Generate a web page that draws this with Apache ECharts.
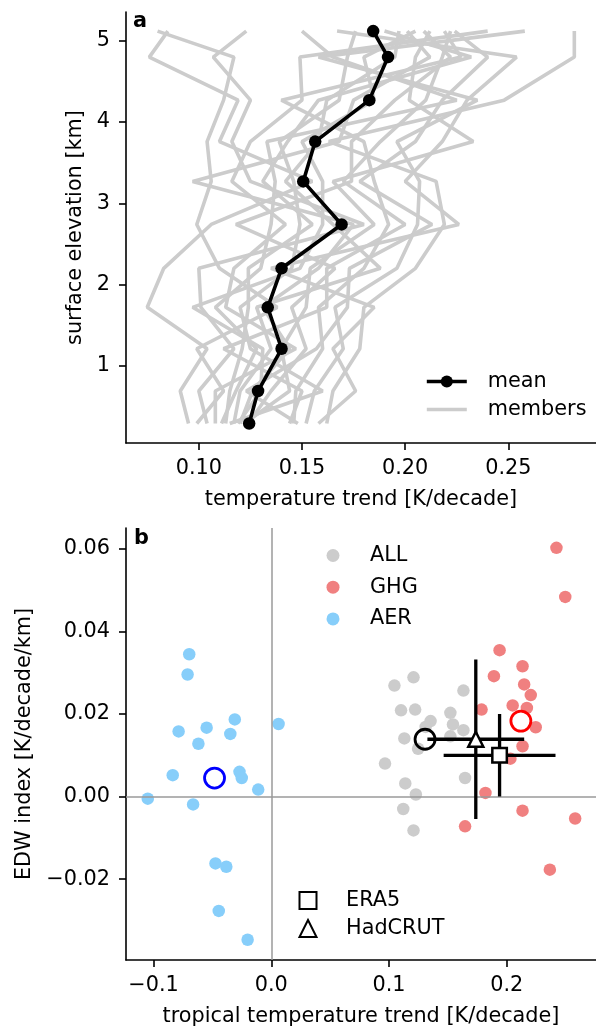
<!DOCTYPE html>
<html>
<head>
<meta charset="utf-8">
<script src="https://cdn.jsdelivr.net/npm/echarts@6/dist/echarts.min.js"></script>
<style>
  html, body { margin: 0; padding: 0; background: #fff; }
  #chart { width: 596px; height: 1029px; }
</style>
</head>
<body>
<div id="chart"></div>
<script>
// ---- panel a: elevation profiles ----
var levels = [0.29, 0.69, 1.21, 1.72, 2.20, 2.74, 3.27, 3.76, 4.27, 4.80, 5.12];
var meanTrend = [0.1244, 0.1287, 0.1401, 0.1334, 0.1401, 0.1692, 0.1506, 0.1564, 0.1826, 0.1917, 0.1845];
// one row per ensemble member, bottom level first
var memberTrends = [
  [0.095, 0.091, 0.104, 0.075, 0.083, 0.106, 0.155, 0.110, 0.119, 0.076, 0.085],
  [0.099, 0.112, 0.099, 0.138, 0.110, 0.099, 0.106, 0.104, 0.112, 0.117, 0.080],
  [0.104, 0.100, 0.117, 0.101, 0.100, 0.180, 0.125, 0.116, 0.125, 0.107, 0.123],
  [0.108, 0.108, 0.147, 0.113, 0.117, 0.142, 0.116, 0.125, 0.150, 0.149, 0.240],
  [0.111, 0.118, 0.128, 0.108, 0.130, 0.135, 0.137, 0.133, 0.225, 0.165, 0.150],
  [0.113, 0.115, 0.121, 0.124, 0.124, 0.155, 0.131, 0.143, 0.158, 0.232, 0.190],
  [0.115, 0.160, 0.125, 0.120, 0.145, 0.149, 0.146, 0.139, 0.168, 0.172, 0.176],
  [0.117, 0.120, 0.135, 0.128, 0.188, 0.165, 0.142, 0.158, 0.162, 0.195, 0.197],
  [0.119, 0.130, 0.131, 0.097, 0.149, 0.160, 0.160, 0.150, 0.185, 0.180, 0.205],
  [0.120, 0.126, 0.144, 0.131, 0.158, 0.175, 0.097, 0.168, 0.175, 0.212, 0.201],
  [0.122, 0.144, 0.140, 0.152, 0.154, 0.185, 0.165, 0.233, 0.202, 0.205, 0.212],
  [0.124, 0.135, 0.152, 0.145, 0.166, 0.118, 0.174, 0.174, 0.195, 0.222, 0.209],
  [0.144, 0.150, 0.112, 0.162, 0.162, 0.200, 0.170, 0.188, 0.210, 0.218, 0.222],
  [0.146, 0.147, 0.160, 0.158, 0.180, 0.192, 0.185, 0.180, 0.140, 0.227, 0.219],
  [0.148, 0.123, 0.157, 0.172, 0.173, 0.213, 0.178, 0.205, 0.218, 0.240, 0.224],
  [0.152, 0.156, 0.170, 0.166, 0.196, 0.206, 0.207, 0.196, 0.235, 0.158, 0.258],
  [0.158, 0.176, 0.165, 0.185, 0.135, 0.226, 0.200, 0.218, 0.230, 0.254, 0.167],
  [0.162, 0.165, 0.178, 0.180, 0.205, 0.219, 0.215, 0.163, 0.248, 0.282, 0.282]
];
var xTicksA = [0.10, 0.15, 0.20, 0.25];
var yTicksA = [1, 2, 3, 4, 5];

// ---- panel b: EDW index vs tropical trend ----
var allX = [0.1208, 0.1046, 0.1632, 0.1102, 0.1222, 0.1521, 0.1353, 0.1311, 0.1543, 0.1632, 0.1521, 0.1130, 0.1247, 0.0966, 0.1646, 0.1138, 0.1228, 0.1121, 0.1208];
var allY = [0.0289, 0.0269, 0.0257, 0.0209, 0.0211, 0.0203, 0.0183, 0.0169, 0.0175, 0.0161, 0.0146, 0.0141, 0.0116, 0.0080, 0.0045, 0.0032, 0.0005, -0.0030, -0.0082];
var ghgX = [0.2422, 0.2497, 0.1939, 0.2134, 0.1891, 0.2148, 0.2204, 0.2050, 0.2171, 0.1786, 0.2246, 0.2134, 0.2031, 0.1819, 0.2134, 0.1646, 0.2581, 0.2366];
var ghgY = [0.0603, 0.0484, 0.0355, 0.0316, 0.0292, 0.0272, 0.0246, 0.0221, 0.0215, 0.0211, 0.0168, 0.0122, 0.0092, 0.0009, -0.0034, -0.0072, -0.0053, -0.0177];
var aerX = [-0.0697, -0.0711, -0.0787, -0.0549, -0.0310, -0.0619, -0.0348, -0.0837, -0.0270, -0.0251, -0.0111, -0.1049, -0.0664, 0.0062, -0.0474, -0.0382, -0.0446, -0.0201];
var aerY = [0.0345, 0.0296, 0.0158, 0.0167, 0.0187, 0.0128, 0.0152, 0.0052, 0.0060, 0.0045, 0.0017, -0.0005, -0.0019, 0.0176, -0.0162, -0.0170, -0.0277, -0.0347];
var allMean = [0.1306, 0.0139];
var ghgMean = [0.2120, 0.0183];
var aerMean = [-0.0482, 0.0045];
var era5 = [0.1939, 0.0100];
var era5Err = [0.0475, 0.0100];
var hadcrut = [0.1737, 0.0139];
var hadcrutErr = [0.0411, 0.0193];
var xTicksB = [-0.1, 0.0, 0.1, 0.2];
var yTicksB = [-0.02, 0.0, 0.02, 0.04, 0.06];

var FS = 20.8;
var FONT = 'DejaVu Sans';

function zip(xs, ys) {
  return xs.map(function (x, i) { return [x, ys[i]]; });
}
function fmt(v, d) {
  var s = Math.abs(v).toFixed(d);
  return v < -1e-9 ? '\u2212' + s : s;
}
function axisBase(grid, ticks, digits, min, max, name, gap, margin) {
  return {
    type: 'value', gridIndex: grid, min: min, max: max,
    name: name, nameLocation: 'middle', nameGap: gap,
    nameTextStyle: { fontSize: FS, color: '#000', fontFamily: FONT },
    axisLine: { show: true, onZero: false, lineStyle: { color: '#000', width: 1.6 } },
    axisTick: { show: true, length: 7, customValues: ticks, lineStyle: { color: '#000', width: 1.6 } },
    axisLabel: {
      customValues: ticks, margin: margin, fontSize: FS, color: '#000', fontFamily: FONT,
      formatter: function (v) { return fmt(v, digits); }
    },
    splitLine: { show: false }
  };
}

var series = [];
memberTrends.forEach(function (m) {
  series.push({
    type: 'line', name: 'members', xAxisIndex: 0, yAxisIndex: 0,
    data: zip(m, levels), symbol: 'none', silent: true, z: 2,
    lineStyle: { color: '#cccccc', width: 3.6 }, itemStyle: { color: '#cccccc' }
  });
});
series.push({
  type: 'line', name: 'mean', xAxisIndex: 0, yAxisIndex: 0,
  data: zip(meanTrend, levels), symbol: 'circle', symbolSize: 12.5, z: 3,
  lineStyle: { color: '#000', width: 3.6 }, itemStyle: { color: '#000', opacity: 1 }
});

// zero reference lines
series.push({
  type: 'line', name: 'zero', xAxisIndex: 1, yAxisIndex: 1, data: [], z: 1, silent: true,
  markLine: {
    silent: true, symbol: ['none', 'none'], label: { show: false },
    lineStyle: { color: '#9a9a9a', width: 1.5, type: 'solid' },
    data: [{ xAxis: 0 }, { yAxis: 0 }]
  }
});
function dots(name, xs, ys, color) {
  return {
    type: 'scatter', name: name, xAxisIndex: 1, yAxisIndex: 1, z: 2,
    data: zip(xs, ys), symbol: 'circle', symbolSize: 12.5,
    itemStyle: { color: color, opacity: 1 }
  };
}
series.push(dots('ALL', allX, allY, '#cccccc'));
series.push(dots('GHG', ghgX, ghgY, '#f08080'));
series.push(dots('AER', aerX, aerY, '#87cefa'));

function ring(name, p, color) {
  return {
    type: 'scatter', name: name, xAxisIndex: 1, yAxisIndex: 1, z: 4,
    data: [p], symbol: 'circle', symbolSize: 20,
    itemStyle: { color: 'rgba(0,0,0,0)', borderColor: color, borderWidth: 2.8, opacity: 1 }
  };
}
series.push(ring('ALL mean', allMean, '#000000'));
series.push(ring('GHG mean', ghgMean, '#ff0000'));
series.push(ring('AER mean', aerMean, '#0000ff'));

function errBars(p, e) {
  var st = { color: '#000', width: 3.3 };
  return [
    { type: 'line', xAxisIndex: 1, yAxisIndex: 1, z: 5, silent: true, symbol: 'none',
      data: [[p[0] - e[0], p[1]], [p[0] + e[0], p[1]]], lineStyle: st },
    { type: 'line', xAxisIndex: 1, yAxisIndex: 1, z: 5, silent: true, symbol: 'none',
      data: [[p[0], p[1] - e[1]], [p[0], p[1] + e[1]]], lineStyle: st }
  ];
}
series = series.concat(errBars(era5, era5Err), errBars(hadcrut, hadcrutErr));
series.push({
  type: 'scatter', name: 'ERA5', xAxisIndex: 1, yAxisIndex: 1, z: 6,
  data: [era5], symbol: 'rect', symbolSize: 14.5,
  itemStyle: { color: '#ffffff', borderColor: '#000', borderWidth: 2.5, opacity: 1 }
});
series.push({
  type: 'scatter', name: 'HadCRUT', xAxisIndex: 1, yAxisIndex: 1, z: 6,
  data: [hadcrut], symbol: 'triangle', symbolSize: 15,
  itemStyle: { color: '#ffffff', borderColor: '#000', borderWidth: 2.5, opacity: 1 }
});

var legendText = { fontSize: FS, color: '#000', fontFamily: FONT };

var option = {
  animation: false,
  backgroundColor: '#fff',
  textStyle: { fontFamily: FONT },
  grid: [
    { left: 126, top: 12, width: 477, height: 431 },
    { left: 126, top: 528, width: 477, height: 432 }
  ],
  xAxis: [
    axisBase(0, xTicksA, 2, 0.0647, 0.2925, 'temperature trend [K/decade]', 46, 15),
    axisBase(1, xTicksB, 1, -0.1234, 0.2758, 'tropical temperature trend [K/decade]', 46, 15)
  ],
  yAxis: [
    axisBase(0, yTicksA, 0, 0.05, 5.355, 'surface elevation [km]', 40, 16),
    axisBase(1, yTicksB, 2, -0.0396, 0.0651, 'EDW index [K/decade/km]', 87, 16)
  ],
  legend: [
    { data: [
        { name: 'mean', lineStyle: { width: 3.6, color: '#000' } },
        { name: 'members', itemStyle: { opacity: 0 }, lineStyle: { width: 3.6, color: '#cccccc' } }
      ],
      orient: 'vertical', left: 425, top: 371, padding: 0,
      itemWidth: 40, itemHeight: 15, itemGap: 7,
      lineStyle: { width: 3.6 },
      textStyle: Object.assign({ padding: [0, 0, 0, 16] }, legendText) },
    { data: ['ALL', 'GHG', 'AER'], orient: 'vertical', left: 326.5, top: 545, padding: 0,
      itemWidth: 13, itemHeight: 13, itemGap: 10.7,
      textStyle: Object.assign({ padding: [0, 0, 0, 25.5] }, legendText) },
    { data: ['ERA5', 'HadCRUT'], orient: 'vertical', left: 298.5, top: 890, padding: 0,
      itemWidth: 17, itemHeight: 17, itemGap: 7,
      textStyle: Object.assign({ padding: [0, 0, 0, 24.5] }, legendText) }
  ],
  graphic: [
    { type: 'text', left: 133, top: 11, style: { text: 'a', fontSize: FS, fontWeight: 'bold', fill: '#000', fontFamily: FONT } },
    { type: 'text', left: 134, top: 528, style: { text: 'b', fontSize: FS, fontWeight: 'bold', fill: '#000', fontFamily: FONT } }
  ],
  series: series
};

var chart = echarts.init(document.getElementById('chart'));
chart.setOption(option);
</script>
</body>
</html>
